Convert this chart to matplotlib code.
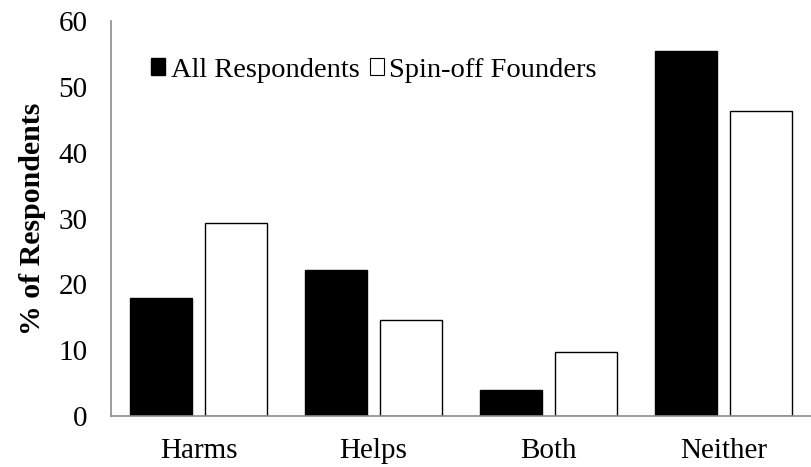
import numpy as np
import matplotlib.pyplot as plt
from matplotlib.patches import Patch

categories = ["Harms", "Helps", "Both", "Neither"]
all_resp = [18.0, 22.2, 3.9, 55.5]
spinoff = [29.4, 14.6, 9.8, 46.4]
series_names = ["All Respondents", "Spin-off Founders"]

plt.rcParams["font.family"] = ["Liberation Serif", "DejaVu Serif"]

fig = plt.figure(figsize=(8.12, 4.67), dpi=100)
ax = fig.add_axes([111/812, 51/467, 700/812, 394.5/467])

x = np.arange(len(categories))
w = 0.354
off = 0.214
ax.bar(x - off, all_resp, w, color="black", edgecolor="black", linewidth=1)
ax.bar(x + off, spinoff, w, color="white", edgecolor="black", linewidth=1)

ax.set_xlim(-0.5, 3.5)
ax.set_ylim(0, 60)
ax.set_yticks(range(0, 61, 10))
ax.set_xticks(x)
ax.set_xticklabels(categories)
ax.tick_params(axis="both", length=0, labelsize=21)
ax.tick_params(axis="y", pad=17)
ax.tick_params(axis="x", pad=16)

for s in ["top", "right"]:
    ax.spines[s].set_visible(False)
for s in ["left", "bottom"]:
    ax.spines[s].set_color("#8c8c8c")
    ax.spines[s].set_linewidth(1.2)

ax.set_ylabel("% of Respondents", fontsize=21.5, fontweight="bold", labelpad=9)

handles = [Patch(facecolor="black", edgecolor="black"),
           Patch(facecolor="white", edgecolor="black", linewidth=0.8)]
ax.legend(handles, series_names, loc="center left", bbox_to_anchor=(0.057, 0.877),
          ncol=2, fontsize=20.5, frameon=False, handlelength=0.5, handleheight=0.5,
          handletextpad=0.2, columnspacing=0.35, borderpad=0, borderaxespad=0)

fig.savefig("out.png", dpi=100)
